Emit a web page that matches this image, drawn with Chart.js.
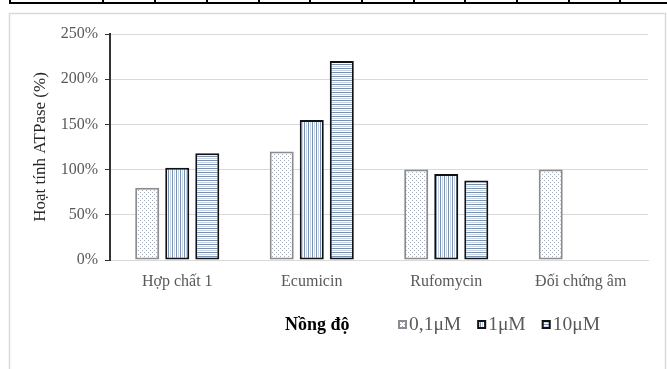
<!DOCTYPE html>
<html>
<head>
<meta charset="utf-8">
<script src="https://cdn.jsdelivr.net/npm/chart.js@4/dist/chart.umd.min.js"></script>
<style>
  html, body { margin: 0; padding: 0; background: #fff; }
  #wrap { width: 667px; height: 369px; }
</style>
</head>
<body>
<div id="wrap"><canvas id="chart"></canvas></div>
<script>
const categories = ['Hợp chất 1', 'Ecumicin', 'Rufomycin', 'Đối chứng âm'];
const seriesNames = ['0,1μM', '1μM', '10μM'];
const conc01 = [80, 120, 100, 100];
const conc1 = [102, 155, 95, null];
const conc10 = [118, 220, 88, null];
const yMax = 250;
const yStep = 50;
const yTitle = 'Hoạt tính ATPase (%)';
const legendTitle = 'Nồng độ';

const SERIF = '"Liberation Serif", "Times New Roman", serif';

// small tiles for the hatch fills
function tile(w, h, draw) {
  const c = document.createElement('canvas');
  c.width = w; c.height = h;
  const x = c.getContext('2d');
  x.fillStyle = '#ffffff';
  x.fillRect(0, 0, w, h);
  draw(x);
  return x.createPattern(c, 'repeat');
}
const dotFill = tile(4, 4, x => {
  x.fillStyle = '#8db2e6';
  x.fillRect(0, 0, 1, 1);
  x.fillRect(2, 2, 1, 1);
});
const vStripe = tile(4, 1, x => {
  x.fillStyle = '#6494d8'; x.fillRect(0, 0, 1, 1);
  x.fillStyle = '#bdd3f2'; x.fillRect(2, 0, 1, 1);
});
const hStripe = tile(1, 4, x => {
  x.fillStyle = '#6494d8'; x.fillRect(0, 0, 1, 1);
  x.fillStyle = '#bdd3f2'; x.fillRect(0, 2, 1, 1);
});

const frame = {
  id: 'frame',
  beforeDraw(chart) {
    const ctx = chart.ctx;
    ctx.save();
    ctx.fillStyle = '#fff';
    ctx.fillRect(0, 0, chart.width, chart.height);
    // table row above the chart
    ctx.fillStyle = '#000';
    ctx.fillRect(9, 2, 658, 2);
    [9, 102, 154, 206, 258, 309, 361, 413, 464, 516, 568, 619].forEach(x => ctx.fillRect(x, 0, 2, 4));
    // chart area border
    ctx.strokeStyle = '#d9d9d9';
    ctx.lineWidth = 1.5;
    ctx.strokeRect(9.5, 13.5, 656, 400);
    ctx.restore();
  }
};

const legendRow = {
  id: 'legendRow',
  afterDraw(chart) {
    const ctx = chart.ctx;
    ctx.save();
    ctx.textBaseline = 'middle';
    ctx.font = 'bold 18px ' + SERIF;
    ctx.fillStyle = '#000';
    ctx.fillText(legendTitle, 285, 325);
    ctx.font = '19.5px ' + SERIF;
    let x = 398;
    chart.data.datasets.forEach(ds => {
      ctx.fillStyle = ds.backgroundColor;
      ctx.fillRect(x, 320, 9, 9);
      ctx.strokeStyle = ds.borderColor;
      ctx.lineWidth = 2;
      ctx.strokeRect(x + 1, 321, 7, 7);
      ctx.fillStyle = '#595959';
      ctx.fillText(ds.label, x + 11, 325);
      x += 11 + ctx.measureText(ds.label).width + 16;
    });
    ctx.restore();
  }
};

new Chart(document.getElementById('chart'), {
  type: 'bar',
  data: {
    labels: categories,
    datasets: [
      { label: seriesNames[0], data: conc01, backgroundColor: dotFill, borderColor: '#8c8c8c', borderWidth: 2, borderSkipped: false },
      { label: seriesNames[1], data: conc1, backgroundColor: vStripe, borderColor: '#111', borderWidth: 2, borderSkipped: false },
      { label: seriesNames[2], data: conc10, backgroundColor: hStripe, borderColor: '#111', borderWidth: 2, borderSkipped: false }
    ]
  },
  options: {
    responsive: true,
    maintainAspectRatio: false,
    animation: false,
    categoryPercentage: 0.67,
    barPercentage: 0.8,
    layout: { padding: { left: 10, top: 34, right: 19, bottom: 0 } },
    plugins: { legend: { display: false }, tooltip: { enabled: false } },
    scales: {
      x: {
        offset: true,
        grid: { display: false, drawTicks: false },
        border: { color: '#d9d9d9', width: 1 },
        ticks: { color: '#595959', font: { family: SERIF, size: 16 }, padding: 12, maxRotation: 0 },
        afterFit(s) { s.height = 109; }
      },
      y: {
        min: 0,
        max: yMax,
        ticks: { stepSize: yStep, color: '#595959', font: { family: SERIF, size: 16 }, padding: 7, callback: v => v + '%' },
        grid: { color: '#d9d9d9', tickColor: '#333', tickLength: 5 },
        border: { color: '#333', width: 2 },
        title: { display: true, text: yTitle, color: '#262626', font: { family: SERIF, size: 17 }, padding: { top: 20 } },
        afterFit(s) { s.width = 100; }
      }
    }
  },
  plugins: [frame, legendRow]
});
</script>
</body>
</html>
